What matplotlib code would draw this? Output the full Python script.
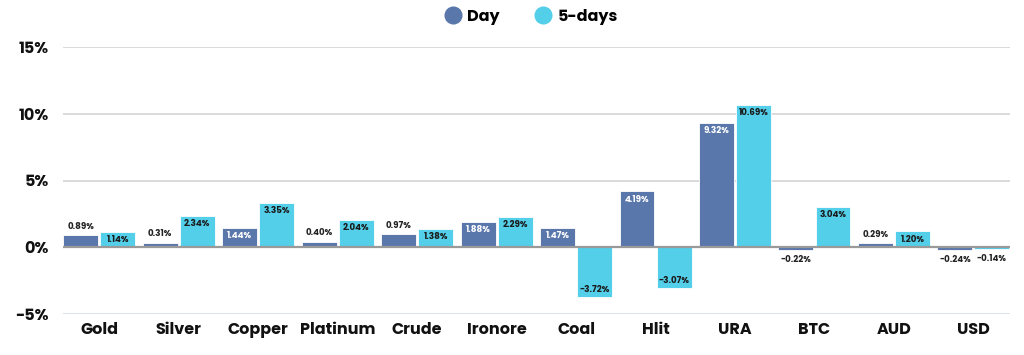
import matplotlib
matplotlib.use("Agg")
import matplotlib.pyplot as plt
from matplotlib.ticker import FuncFormatter
from matplotlib.lines import Line2D
import numpy as np

categories = ["Gold", "Silver", "Copper", "Platinum", "Crude", "Ironore", "Coal", "Hlit", "URA", "BTC", "AUD", "USD"]
day = [0.89, 0.31, 1.44, 0.40, 0.97, 1.88, 1.47, 4.19, 9.32, -0.22, 0.29, -0.24]
five_days = [1.14, 2.34, 3.35, 2.04, 1.38, 2.29, -3.72, -3.07, 10.69, 3.04, 1.20, -0.14]
series_names = ["Day", "5-days"]
yticks = [-5, 0, 5, 10, 15]

c_day = "#5a77ab"
c_5d = "#53cfe9"
FONT = ["Poppins", "Open Sans", "DejaVu Sans"]
plt.rcParams['font.family'] = FONT

fig = plt.figure(figsize=(10.24, 3.55), dpi=100)
ax = fig.add_axes([63/1024, 1-314/355, (1010-63)/1024, (314-47)/355])

x = np.arange(len(categories))
w = 0.44
off = 0.233
b1 = ax.bar(x - off, day, w, color=c_day, edgecolor="white", linewidth=0.6, zorder=3)
b2 = ax.bar(x + off, five_days, w, color=c_5d, edgecolor="white", linewidth=0.6, zorder=3)

ax.set_xlim(-0.455, len(categories) - 0.54)
ax.set_ylim(-5, 15)
ax.set_yticks(yticks)
ax.yaxis.set_major_formatter(FuncFormatter(lambda v, p: f"{int(v)}%"))
for t in yticks:
    if t == 0:
        ax.axhline(t, color="#9a9a9a", lw=1.6, zorder=4)
    elif t == -5:
        ax.axhline(t, color="#d5dde0", lw=1.2, zorder=1)
    else:
        ax.axhline(t, color="#d4d4d8", lw=1.2, zorder=1)

ax.set_xticks(x)
ax.set_xticklabels(categories, fontsize=11.5, fontweight="bold", color="#111111")
ax.tick_params(axis="x", length=0, pad=6)
ax.tick_params(axis="y", length=0, pad=10, labelsize=11.5, labelcolor="#111111")
for lbl in ax.get_yticklabels():
    lbl.set_fontweight("bold")
for s in ax.spines.values():
    s.set_visible(False)

def label(bars, vals, inside_color):
    for rect, v in zip(bars, vals):
        cx = rect.get_x() + rect.get_width() / 2
        txt = f"{v:.2f}%"
        if abs(v) >= 1.0:
            if v > 0:
                ax.text(cx, v - 0.25, txt, ha="center", va="top", fontsize=6.3, fontweight="bold", color=inside_color, zorder=5)
            else:
                ax.text(cx, v + 0.25, txt, ha="center", va="bottom", fontsize=6.3, fontweight="bold", color=inside_color, zorder=5)
        else:
            if v >= 0:
                ax.text(cx, v + 0.35, txt, ha="center", va="bottom", fontsize=6.3, fontweight="bold", color="#222222", zorder=5)
            else:
                ax.text(cx, v - 0.35, txt, ha="center", va="top", fontsize=6.3, fontweight="bold", color="#222222", zorder=5)

label(b1, day, "white")
label(b2, five_days, "#1a1a1a")

handles = [Line2D([0], [0], marker="o", color="none", markerfacecolor=c, markeredgecolor=c, markersize=12)
           for c in (c_day, c_5d)]
fig.legend(handles, series_names, loc="center", bbox_to_anchor=(0.519, 1-17/355), ncol=2, frameon=False,
           prop={"weight": "bold", "size": 11.5}, handletextpad=0.4, columnspacing=2.2, handlelength=1.0)

fig.savefig("out.png", dpi=100, facecolor="white")
